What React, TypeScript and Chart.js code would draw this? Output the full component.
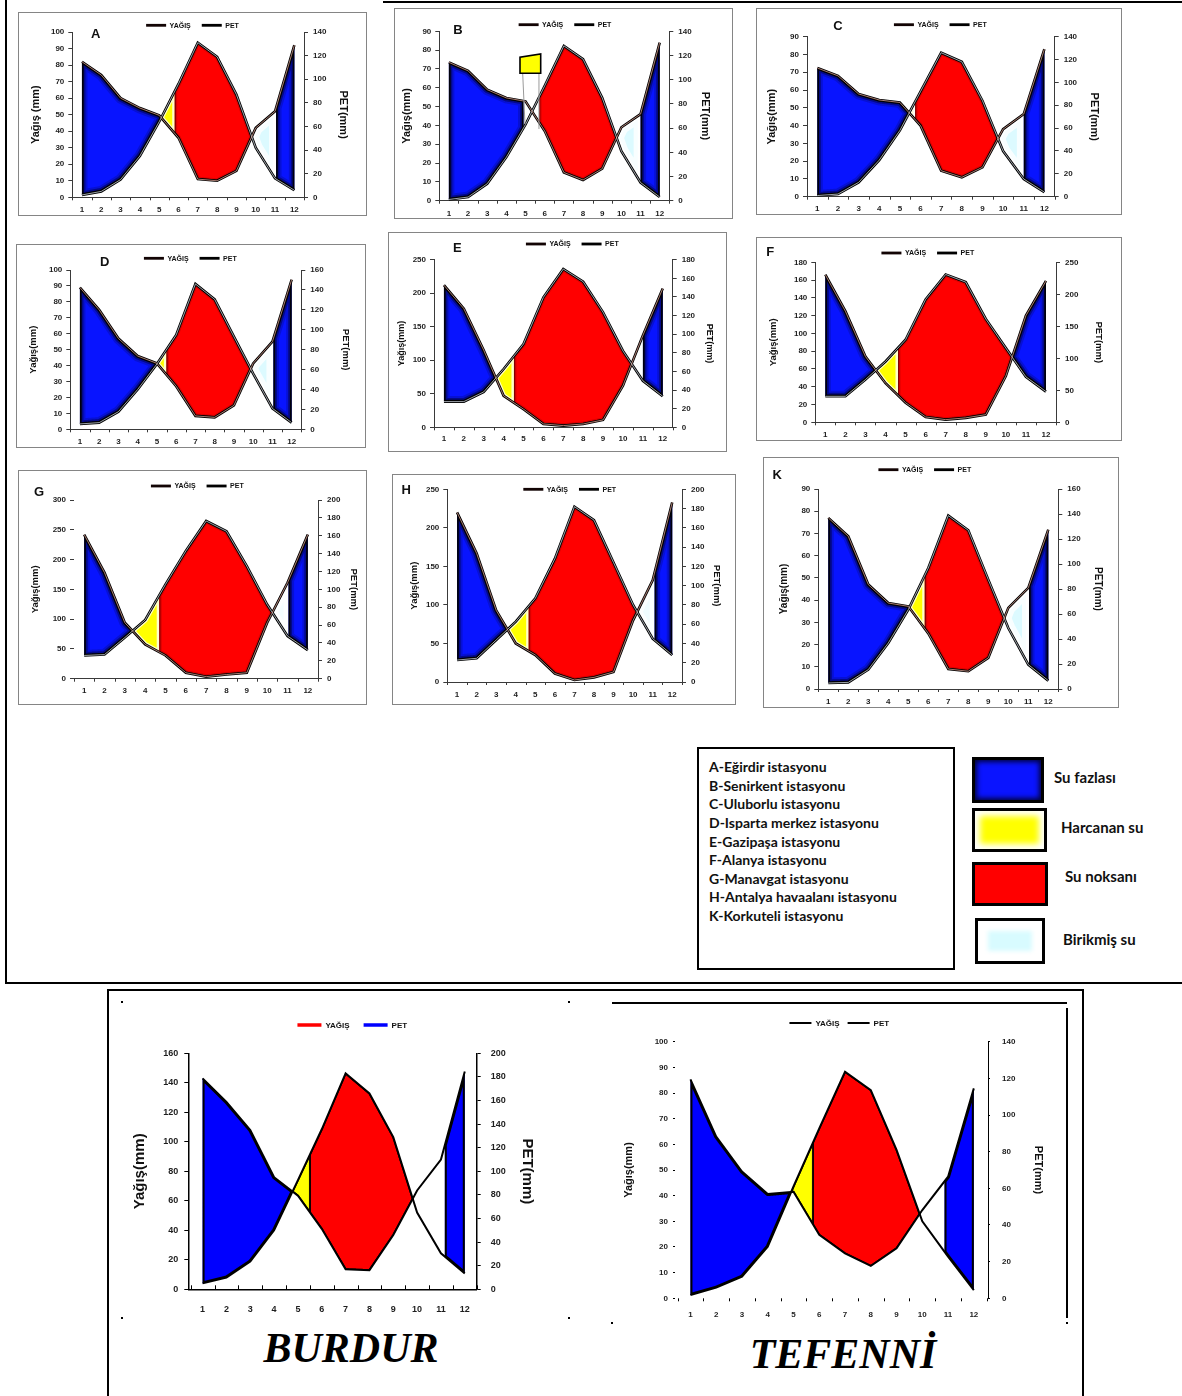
import React, { useEffect, useRef } from 'react';
import { Chart, registerables } from 'chart.js';

Chart.register(...registerables);
Chart.defaults.font.family = '"Liberation Sans", Arial, sans-serif';
Chart.defaults.font.weight = 'bold';
Chart.defaults.color = '#1a1a1a';

// ---------------- data ----------------
const MONTHS = [1, 2, 3, 4, 5, 6, 7, 8, 9, 10, 11, 12];
const SERIES_LABELS = ['YAĞIŞ', 'PET'];

const A_YAGIS = [82, 74, 60, 54, 49.6, 36, 11, 10, 16, 42, 52, 92];
const A_PET = [2, 5, 15, 35, 64, 96, 131, 119, 87, 42, 16, 6];
const B_YAGIS = [73.5, 69, 59, 54.6, 52.8, 37, 15, 11, 17, 39, 46, 84];
const B_PET = [1, 3, 14, 36, 63, 95, 128, 117, 85, 41, 15, 3];
const C_YAGIS = [72.4, 68, 57.8, 54.4, 53, 40, 14.6, 10.9, 16.5, 38, 46.5, 83];
const C_PET = [1, 2.3, 12.5, 32, 58, 92, 126, 118, 84, 40, 15.5, 4];
const D_YAGIS = [89, 75, 57, 46, 41.4, 27, 8.4, 7.5, 15, 41.4, 55, 94];
const D_PET = [5.4, 6.7, 17.7, 40, 65.6, 94.7, 146, 130.5, 93, 56, 21, 6.7];
const E_YAGIS = [212, 177, 115, 47, 27, 5, 2.5, 5, 11, 62, 137, 207];
const E_PET = [27.6, 27.6, 38, 62.6, 89.5, 139.6, 170, 156.4, 123.5, 82, 50, 33.3];
const F_YAGIS = [166, 125, 74, 44, 22, 6, 3, 5, 8.6, 52, 120, 159];
const F_PET = [40.6, 40.6, 66.7, 95, 129, 192, 231, 219, 161.5, 116, 71, 48];
const G_YAGIS = [242, 178, 94, 57.6, 39, 10, 3.4, 7, 10, 94, 161, 242];
const G_PET = [26, 27, 46, 65.7, 105.6, 143, 176.5, 165, 126, 83, 47.8, 32];
const H_YAGIS = [220, 167, 93, 50, 35, 11, 2.6, 6, 13, 80, 132, 233];
const H_PET = [22.8, 24.6, 43.6, 62.6, 86.9, 128, 182, 168, 124, 80, 45, 28];
const K_YAGIS = [77, 68.7, 47, 38.7, 37.2, 25, 9, 8, 14, 36.5, 45.5, 71.7];
const K_PET = [4.8, 5.3, 15.5, 36.8, 63.5, 96.8, 138.7, 127, 87.5, 48.8, 19.5, 6.7];
const BURDUR_YAGIS = [143, 127, 108, 76, 63.5, 41, 13.6, 13, 36.8, 67, 88, 147.6];
const BURDUR_PET = [5, 10, 23.5, 50, 92.5, 135.6, 183, 166, 129, 65, 30.5, 13.5];
const TEFENNI_YAGIS = [85.3, 63, 49.4, 40.6, 41.5, 24.7, 17.5, 12.6, 19.5, 34.4, 47.4, 81.8];
const TEFENNI_PET = [1.8, 5.8, 11.8, 28.2, 61, 92.7, 123.6, 113.6, 81, 42, 22.7, 4.5];

// stray yellow box of chart B (month, Yağış value)
const B_BOX = [[4.71, 67.7], [4.71, 76.2], [5.79, 78], [5.79, 67.7]];
const B_BOX_LINES = [[[4.85, 67.7], [4.97, 40.8]], [[5.7, 67.7], [5.7, 38.1]]];

const STATIONS = [
  'A-Eğirdir istasyonu',
  'B-Senirkent istasyonu',
  'C-Uluborlu istasyonu',
  'D-Isparta merkez istasyonu',
  'E-Gazipaşa istasyonu',
  'F-Alanya istasyonu',
  'G-Manavgat istasyonu',
  'H-Antalya havaalanı istasyonu',
  'K-Korkuteli istasyonu',
];
const ZONE_NAMES = ['Su fazlası', 'Harcanan su', 'Su noksanı', 'Birikmiş su'];

// ---------------- styles ----------------
const SOFT = {
  blue: { fill: '#0814ff', strokes: [[11, 'rgba(0,0,20,0.18)'], [7, 'rgba(0,0,20,0.4)'], [3.5, 'rgba(0,0,0,0.9)']] },
  red: { fill: '#ff0000', strokes: [[5, 'rgba(110,0,0,0.25)'], [2.4, 'rgba(70,0,0,0.6)']] },
  yellow: { fill: '#ffff00', strokes: [[5, 'rgba(255,255,255,0.8)']] },
  cyan: { fill: '#dcfaff', strokes: [[14, 'rgba(255,255,255,0.8)'], [6, 'rgba(255,255,255,0.9)']] },
  none: null,
};
const FLAT = {
  blue: { fill: '#0000ff', strokes: [[4, '#000']] },
  red: { fill: '#ff0000', strokes: [[2, '#000']] },
  yellow: { fill: '#ffff00', strokes: [[2, '#000']] },
  cyan: null,
  none: null,
};

const SMALL = {
  xMin: 0.5, xMax: 12.5, tickSize: 8, legendSize: 7, legendGap: 11, legendBoxW: 20, legendBoxH: 2.8,
  style: 'soft', border: true, leftBorder: true, bottomBorder: true, rightDash: [], lineW: 2.6, inner: true,
  monthTick: 3, legendColors: ['#120404', '#000'], lineColor: '#000', axisColor: '#3a3a3a', axisW: 1,
  tickColor: '#1e1e1e', yTickLen: 4, yTickPad: 4, y1TickPad: 5, palette: {}, yTitle: 'Yağış(mm)', y1Title: 'PET(mm)',
};

const CHARTS = [
  { ...SMALL, id: 'A', letter: 'A', letterPos: [95.7, 33], box: [18, 12, 349, 204], plot: [72.3, 304, 32, 197.3],
    titleL: 35.7, titleR: 343.3, legendX: 192.5, legendY: 25.3, xLabelY: 209.7, titleSize: 11, yTitle: 'Yağış (mm)',
    yagis: A_YAGIS, pet: A_PET, yMax: 100, yStep: 10, y1Max: 140, y1Step: 20, zones: { yellowEnd: 5.8, cyanEnd: 11.05, blueEnd: 99 } },
  { ...SMALL, id: 'B', letter: 'B', letterPos: [458, 29], box: [394, 8, 339, 211], plot: [439.3, 669.3, 31.3, 200.7],
    titleL: 407.3, titleR: 705, legendX: 565, legendY: 24.7, xLabelY: 213.3, titleSize: 11,
    yagis: B_YAGIS, pet: B_PET, yMax: 90, yStep: 10, y1Max: 140, y1Step: 20, artifact: true,
    palette: { yellow: null }, zones: { yellowEnd: 5.7, cyanEnd: 11.0, blueEnd: 4.89 } },
  { ...SMALL, id: 'C', letter: 'C', letterPos: [838, 24.7], box: [756, 8, 366, 207], plot: [807, 1054.7, 36.7, 196.7],
    titleL: 772, titleR: 1093.7, legendX: 940.3, legendY: 24.7, xLabelY: 209, titleSize: 11,
    yagis: C_YAGIS, pet: C_PET, yMax: 90, yStep: 10, y1Max: 140, y1Step: 20,
    palette: { yellow: { fill: '#fffbd0', strokes: [[4, 'rgba(255,255,255,0.8)']] } },
    zones: { yellowEnd: 5.73, cyanEnd: 11.0, blueEnd: 99 } },
  { ...SMALL, id: 'D', letter: 'D', letterPos: [104.7, 260.7], box: [16, 244, 350, 204], plot: [70.3, 301.3, 270, 429.3],
    titleL: 33.7, titleR: 345.3, legendX: 190.3, legendY: 258.3, xLabelY: 441.7, titleSize: 9.5,
    yagis: D_YAGIS, pet: D_PET, yMax: 100, yStep: 10, y1Max: 160, y1Step: 20, zones: { yellowEnd: 5.49, cyanEnd: 11.05, blueEnd: 99 } },
  { ...SMALL, id: 'E', letter: 'E', letterPos: [457.3, 247.3], box: [388, 232, 339, 220], plot: [434, 672.7, 259.7, 427.3],
    titleL: 401.3, titleR: 709, legendX: 572.3, legendY: 244, xLabelY: 438.3, titleSize: 9,
    yagis: E_YAGIS, pet: E_PET, yMax: 250, yStep: 50, y1Max: 180, y1Step: 20,
    palette: { cyan: { fill: '#f0fdff', strokes: [[10, 'rgba(255,255,255,0.8)']] } },
    zones: { yellowEnd: 4.52, cyanEnd: 11.0, blueEnd: 99 } },
  { ...SMALL, id: 'F', letter: 'F', letterPos: [770.3, 251.3], box: [756, 237, 366, 204], plot: [815.3, 1056, 262.3, 422.3],
    titleL: 773.7, titleR: 1098.7, legendX: 927.8, legendY: 253, xLabelY: 434.7, titleSize: 9.5,
    yagis: F_YAGIS, pet: F_PET, yMax: 180, yStep: 20, y1Max: 250, y1Step: 50, zones: { yellowEnd: 4.62, cyanEnd: 0, blueEnd: 99 } },
  { ...SMALL, id: 'G', letter: 'G', letterPos: [39, 491], box: [18, 470, 349, 235], plot: [74, 318, 500, 678.7],
    titleL: 35.7, titleR: 354, legendX: 197.3, legendY: 486, xLabelY: 691, titleSize: 9.5, leftBorder: false,
    yagis: G_YAGIS, pet: G_PET, yMax: 300, yStep: 50, y1Max: 200, y1Step: 20,
    palette: { cyan: { fill: '#f4feff', strokes: [[10, 'rgba(255,255,255,0.8)']] } },
    zones: { yellowEnd: 4.69, cyanEnd: 11.05, blueEnd: 99 } },
  { ...SMALL, id: 'H', letter: 'H', letterPos: [406.3, 489.3], box: [392, 474, 344, 231], plot: [447.3, 682, 489.3, 682],
    titleL: 414.7, titleR: 716.3, legendX: 569.7, legendY: 489.3, xLabelY: 695, titleSize: 9.5,
    yagis: H_YAGIS, pet: H_PET, yMax: 250, yStep: 50, y1Max: 200, y1Step: 20,
    palette: { cyan: { fill: '#f0fdff', strokes: [[10, 'rgba(255,255,255,0.8)']] } },
    zones: { yellowEnd: 4.66, cyanEnd: 11.1, blueEnd: 99 } },
  { ...SMALL, id: 'K', letter: 'K', letterPos: [777.3, 473.7], box: [763, 457, 356, 251], plot: [818.3, 1058.3, 489, 689],
    titleL: 784, titleR: 1097.3, legendX: 924.8, legendY: 469.7, xLabelY: 701.3, titleSize: 10,
    yagis: K_YAGIS, pet: K_PET, yMax: 90, yStep: 10, y1Max: 160, y1Step: 20, zones: { yellowEnd: 5.82, cyanEnd: 11.03, blueEnd: 99 } },
  { ...SMALL, id: 'BURDUR', box: [115, 995, 460, 330], plot: [188.3, 476.7, 1053.3, 1289.3],
    titleL: 140, titleR: 527, legendX: 352.3, legendY: 1025, xLabelY: 1310, titleSize: 15, tickSize: 9, legendSize: 8,
    legendBoxW: 24, legendBoxH: 3.5, legendGap: 14, xMin: 0.4, xMax: 12.5, style: 'flat', border: false, inner: false, lineW: 2,
    legendColors: ['#ff0000', '#0000ff'], axisColor: '#000', axisW: 1.5, monthTick: -4, yTickPad: 6, y1TickPad: 10,
    rightDash: [6, 3], yagis: BURDUR_YAGIS, pet: BURDUR_PET, yMax: 160, yStep: 20, y1Max: 200, y1Step: 20,
    zones: { yellowEnd: 5.5, cyanEnd: 11.16, blueEnd: 99 } },
  { ...SMALL, id: 'TEFENNI', box: [615, 1000, 450, 325], plot: [675, 988, 1041.7, 1298.3],
    titleL: 629, titleR: 1038, legendX: 839.3, legendY: 1023, xLabelY: 1315, titleSize: 11, tickSize: 8, legendSize: 8,
    legendBoxW: 22, legendBoxH: 2, legendGap: 8, xMin: 0.4, xMax: 12.55, style: 'flat', border: false, inner: false, lineW: 2,
    legendColors: ['#000', '#000'],
    leftBorder: false, bottomBorder: false, rightDash: [7, 3], axisColor: '#000', monthTick: 3, yTickLen: 2, yTickPad: 5, y1TickPad: 12,
    yagis: TEFENNI_YAGIS, pet: TEFENNI_PET, yMax: 100, yStep: 10, y1Max: 140, y1Step: 20,
    zones: { yellowEnd: 5.75, cyanEnd: 10.86, blueEnd: 99 } },
];

// ---------------- drawing helpers ----------------
function paintRun(ctx, run, st) {
  if (!st) return;
  ctx.save();
  ctx.beginPath();
  run.forEach((p, j) => (j ? ctx.lineTo(p.x, p.yp) : ctx.moveTo(p.x, p.yp)));
  for (let j = run.length - 1; j >= 0; j--) ctx.lineTo(run[j].x, run[j].ye);
  ctx.closePath();
  ctx.fillStyle = st.fill;
  ctx.fill();
  ctx.clip();
  ctx.lineJoin = 'round';
  for (const [w, col] of st.strokes) {
    ctx.lineWidth = w;
    ctx.strokeStyle = col;
    ctx.stroke();
  }
  ctx.restore();
}

function drawZones(chart, c) {
  const { ctx } = chart;
  const xs = chart.scales.x, ys = chart.scales.y, ys1 = chart.scales.y1;
  const pal = { ...(c.style === 'flat' ? FLAT : SOFT), ...c.palette };
  const pp = c.yagis.map((v) => ys.getPixelForValue(v));
  const ep = c.pet.map((v) => ys1.getPixelForValue(v));
  const n = MONTHS.length;
  const S = 1800;
  const pts = [];
  for (let k = 0; k <= S; k++) {
    const t = (k / S) * (n - 1);
    const i = Math.min(Math.floor(t), n - 2);
    const f = t - i;
    const m = MONTHS[i] + (MONTHS[i + 1] - MONTHS[i]) * f;
    const yp = pp[i] + (pp[i + 1] - pp[i]) * f;
    const ye = ep[i] + (ep[i + 1] - ep[i]) * f;
    let kind;
    if (yp <= ye) {
      if (m > 8) kind = m < c.zones.cyanEnd ? 'cyan' : 'blue';
      else kind = m > c.zones.blueEnd ? 'none' : 'blue';
    } else kind = m < c.zones.yellowEnd ? 'yellow' : 'red';
    pts.push({ x: xs.getPixelForValue(m), yp, ye, kind });
  }
  let s = 0;
  for (let k = 1; k <= pts.length; k++) {
    if (k === pts.length || pts[k].kind !== pts[s].kind) {
      paintRun(ctx, pts.slice(s, Math.min(k + 1, pts.length)), pal[pts[s].kind]);
      s = k;
    }
  }
}

function drawArtifact(chart) {
  const { ctx } = chart;
  const xs = chart.scales.x, ys = chart.scales.y;
  ctx.save();
  ctx.strokeStyle = '#9a9a9a';
  ctx.lineWidth = 1;
  for (const seg of B_BOX_LINES) {
    ctx.beginPath();
    ctx.moveTo(xs.getPixelForValue(seg[0][0]), ys.getPixelForValue(seg[0][1]));
    ctx.lineTo(xs.getPixelForValue(seg[1][0]), ys.getPixelForValue(seg[1][1]));
    ctx.stroke();
  }
  ctx.beginPath();
  B_BOX.forEach(([m, v], j) => {
    const x = xs.getPixelForValue(m), y = ys.getPixelForValue(v);
    if (j) ctx.lineTo(x, y); else ctx.moveTo(x, y);
  });
  ctx.closePath();
  ctx.fillStyle = '#ffff00';
  ctx.fill();
  ctx.strokeStyle = '#000';
  ctx.lineWidth = 1.6;
  ctx.stroke();
  ctx.restore();
}

function drawMonthTicks(chart, c) {
  const { ctx } = chart;
  const xs = chart.scales.x;
  const b = chart.chartArea.bottom;
  const edges = MONTHS.map((m) => m - 0.5).concat([MONTHS[MONTHS.length - 1] + 0.5]);
  ctx.save();
  ctx.strokeStyle = c.axisColor;
  ctx.lineWidth = 1;
  for (const v of edges) {
    if (v < xs.min - 1e-6 || v > xs.max + 1e-6) continue;
    const x = Math.round(xs.getPixelForValue(v)) + 0.5;
    ctx.beginPath();
    ctx.moveTo(x, b);
    ctx.lineTo(x, b + c.monthTick);
    ctx.stroke();
  }
  ctx.restore();
}

// series key drawn in the chart's own canvas (line marker + label per dataset)
function drawKey(chart, c, g) {
  const { ctx } = chart;
  const fs = c.legendSize;
  ctx.save();
  ctx.font = `bold ${fs}px "Liberation Sans", Arial, sans-serif`;
  const gap = fs / 2;
  const labels = chart.data.datasets.slice(0, 2).map((d) => d.label);
  const widths = labels.map((t) => c.legendBoxW + gap + ctx.measureText(t).width);
  const total = widths.reduce((a, b) => a + b, 0) + c.legendGap * (widths.length - 1);
  let x = c.legendX - g.cx - total / 2;
  const y = c.legendY - g.cy;
  labels.forEach((t, i) => {
    ctx.fillStyle = c.legendColors[i];
    ctx.fillRect(x, y - c.legendBoxH / 2, c.legendBoxW, c.legendBoxH);
    ctx.fillStyle = '#111';
    ctx.textBaseline = 'middle';
    ctx.textAlign = 'left';
    ctx.fillText(t, x + c.legendBoxW + gap, y + 0.5);
    x += widths[i] + c.legendGap;
  });
  ctx.restore();
}

function makePlugin(c, g) {
  return {
    id: 'water' + c.id,
    beforeDatasetsDraw(chart) { drawZones(chart, c); },
    afterDatasetsDraw(chart) { if (c.artifact) drawArtifact(chart); },
    afterDraw(chart) { drawMonthTicks(chart, c); drawKey(chart, c, g); },
  };
}

function geometry(c) {
  const [bx, by, bw, bh] = c.box;
  const [pl, pr, pt, pb] = c.plot;
  const lh = c.titleSize * 1.2;
  const Lb = c.titleL - lh / 2;
  const Rb = c.titleR + lh / 2;
  const cx = Math.floor(Math.min(bx, Lb));
  const cr = Math.ceil(Math.max(bx + bw, Rb));
  const cy = by, ch = bh;
  return {
    cx, cy, cw: cr - cx, ch,
    padL: Lb - cx, padR: cr - Rb, padT: pt - cy,
    LW: pl - Lb, RW: Rb - pr,
    XH: cy + ch - pb,
    xPad: c.xLabelY - pb - 0.6 * c.tickSize,
  };
}

function makeConfig(c, g) {
  const tickFont = { size: c.tickSize, weight: 'bold' };
  const titleFont = { size: c.titleSize, weight: 'bold' };
  const base = { pointRadius: 0, tension: 0, fill: false };
  const datasets = [
    { ...base, label: SERIES_LABELS[0], data: c.yagis, yAxisID: 'y', borderColor: c.lineColor, backgroundColor: c.lineColor, borderWidth: c.lineW, order: 1 },
    { ...base, label: SERIES_LABELS[1], data: c.pet, yAxisID: 'y1', borderColor: c.lineColor, backgroundColor: c.lineColor, borderWidth: c.lineW, order: 1 },
  ];
  if (c.inner) {
    datasets.push(
      { ...base, label: 'in1', data: c.yagis, yAxisID: 'y', borderColor: '#f0b0a0', borderWidth: 0.7, order: 0 },
      { ...base, label: 'in2', data: c.pet, yAxisID: 'y1', borderColor: '#dfe8f2', borderWidth: 0.7, order: 0 },
    );
  }
  return {
    type: 'line',
    data: { labels: MONTHS, datasets },
    options: {
      responsive: false,
      animation: false,
      events: [],
      layout: { padding: { left: g.padL, right: g.padR, top: g.padT, bottom: 0 } },
      plugins: {
        tooltip: { enabled: false },
        title: { display: false },
        legend: { display: false },
      },
      scales: {
        x: {
          type: 'linear', min: c.xMin, max: c.xMax,
          afterBuildTicks: (s) => { s.ticks = MONTHS.map((v) => ({ value: v })); },
          afterFit: (s) => { s.height = g.XH; },
          ticks: { font: tickFont, color: c.tickColor, padding: g.xPad, maxRotation: 0, autoSkip: false },
          grid: { display: false, drawTicks: false },
          border: { display: c.bottomBorder, color: c.axisColor, width: c.axisW },
        },
        y: {
          position: 'left', min: 0, max: c.yMax,
          afterFit: (s) => { s.width = g.LW; },
          ticks: { stepSize: c.yStep, font: tickFont, color: c.tickColor, padding: c.yTickPad },
          grid: { display: true, drawOnChartArea: false, tickLength: c.yTickLen, color: c.axisColor },
          border: { display: c.leftBorder, color: c.axisColor, width: c.axisW },
          title: { display: true, text: c.yTitle, font: titleFont, color: '#111', padding: 0 },
        },
        y1: {
          position: 'right', min: 0, max: c.y1Max,
          afterFit: (s) => { s.width = g.RW; },
          ticks: { stepSize: c.y1Step, font: tickFont, color: c.tickColor, padding: c.y1TickPad },
          grid: { display: true, drawOnChartArea: false, tickLength: c.yTickLen, color: c.axisColor },
          border: { display: true, color: c.axisColor, width: c.axisW, dash: c.rightDash },
          title: { display: true, text: c.y1Title, font: titleFont, color: '#111', padding: 0 },
        },
      },
    },
    plugins: [makePlugin(c, g)],
  };
}

// ---------------- components ----------------
function StationChart({ c }) {
  const ref = useRef(null);
  const g = geometry(c);
  useEffect(() => {
    const chart = new Chart(ref.current, makeConfig(c, g));
    return () => chart.destroy();
  }, []);
  const [bx, by, bw, bh] = c.box;
  return (
    <>
      {c.border && (
        <div style={{ position: 'absolute', left: bx, top: by, width: bw, height: bh, border: '1px solid #858585', boxSizing: 'border-box', background: '#fff' }} />
      )}
      <canvas ref={ref} width={g.cw} height={g.ch} style={{ position: 'absolute', left: g.cx, top: g.cy, width: g.cw, height: g.ch }} />
      {c.letter && (
        <div style={{ position: 'absolute', left: c.letterPos[0], top: c.letterPos[1], transform: 'translate(-50%,-50%)', font: 'bold 13px "Liberation Sans", Arial, sans-serif', lineHeight: 1, color: '#111' }}>
          {c.letter}
        </div>
      )}
    </>
  );
}

const bar = (l, t, w, h, key) => (
  <div key={key} style={{ position: 'absolute', left: l, top: t, width: w, height: h, background: '#000' }} />
);

const SWATCHES = [
  { left: 972, top: 757, w: 72, h: 46, bg: '#0a14ff', shadow: 'inset 0 0 5px 2px rgba(0,0,40,0.9)', labelX: 1054, labelY: 778 },
  { left: 972, top: 808, w: 75, h: 44, bg: '#ffff00', shadow: 'inset 0 0 6px 5px #fff', labelX: 1061, labelY: 828 },
  { left: 972, top: 862, w: 76, h: 44, bg: '#ff0000', shadow: 'none', labelX: 1065, labelY: 877 },
  { left: 975, top: 918, w: 70, h: 46, bg: '#fff', shadow: 'none', labelX: 1063, labelY: 940, blob: true },
];

export default function App() {
  const sans = '"Lato", "Liberation Sans", Arial, sans-serif';
  return (
    <div style={{ position: 'absolute', left: 0, top: 0, width: 1182, height: 1396, background: '#fff', overflow: 'hidden' }}>
      {/* frames */}
      {bar(5, 0, 2, 984, 'f1')}
      {bar(5, 982, 1177, 2, 'f2')}
      {bar(383, 1, 799, 2, 'f3')}
      {bar(107, 989, 2, 407, 'f4')}
      {bar(107, 989, 977, 2, 'f5')}
      {bar(1082, 989, 2, 407, 'f6')}
      {bar(612, 1002, 455, 2, 'f7')}
      {bar(1066, 1008, 2, 310, 'f8')}
      {bar(121, 1001, 2, 2, 'd1')}
      {bar(568, 1001, 2, 2, 'd2')}
      {bar(121, 1317, 2, 2, 'd3')}
      {bar(568, 1317, 2, 2, 'd4')}
      {bar(611, 1322, 2, 2, 'd5')}
      {bar(1066, 1322, 2, 2, 'd6')}

      {CHARTS.map((c) => <StationChart key={c.id} c={c} />)}

      {/* station legend */}
      <div style={{ position: 'absolute', left: 697, top: 747, width: 258, height: 223, border: '2px solid #000', boxSizing: 'border-box' }} />
      {STATIONS.map((s, i) => (
        <div key={s} style={{ position: 'absolute', left: 709, top: 767.3 + i * 18.55 - 9, height: 18, lineHeight: '18px', font: `bold 14px ${sans}`, color: '#111', whiteSpace: 'nowrap' }}>
          {s}
        </div>
      ))}
      {SWATCHES.map((sw, i) => (
        <React.Fragment key={i}>
          <div style={{ position: 'absolute', left: sw.left, top: sw.top, width: sw.w, height: sw.h, border: '3px solid #000', boxSizing: 'border-box', background: sw.bg, boxShadow: sw.shadow }}>
            {sw.blob && (
              <div style={{ position: 'absolute', left: 10, top: 10, width: 44, height: 20, background: '#d8fbff', filter: 'blur(2px)' }} />
            )}
          </div>
          <div style={{ position: 'absolute', left: sw.labelX, top: sw.labelY - 10, height: 20, lineHeight: '20px', font: `bold 15px ${sans}`, color: '#111', whiteSpace: 'nowrap' }}>
            {ZONE_NAMES[i]}
          </div>
        </React.Fragment>
      ))}

      {/* station names of the bottom charts */}
      <div style={{ position: 'absolute', left: 351, top: 1348, transform: 'translate(-50%,-50%)', font: 'italic bold 42px "Liberation Serif", serif', lineHeight: 1, color: '#000', whiteSpace: 'nowrap' }}>
        BURDUR
      </div>
      <div style={{ position: 'absolute', left: 843, top: 1354, transform: 'translate(-50%,-50%)', font: 'italic bold 42px "Liberation Serif", serif', lineHeight: 1, color: '#000', whiteSpace: 'nowrap' }}>
        TEFENNİ
      </div>
    </div>
  );
}
